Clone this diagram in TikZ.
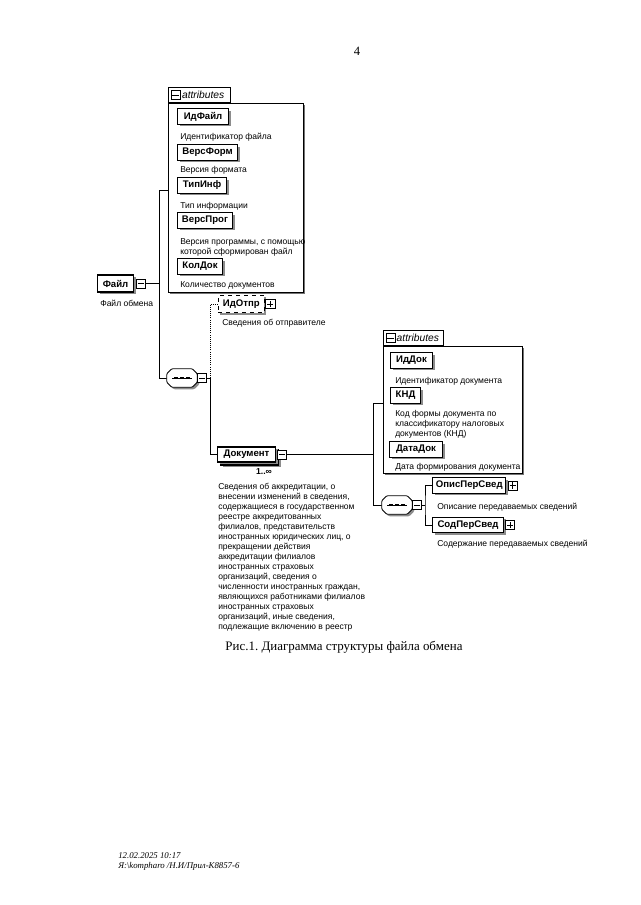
\documentclass[tikz,border=0pt]{standalone}
\usepackage{fontspec}
\setmainfont{Liberation Sans}
\newfontfamily\serifcap{Liberation Serif}
\usetikzlibrary{shadows,calc}
\frenchspacing
\newcommand\xsbtn[3]{%
  \node[btn] (#1) at (#2) {};
  \draw[line width=0.5pt] ([xshift=1.3pt]#1.west) -- ([xshift=-1.3pt]#1.east);
  \ifnum#3=1 \draw[line width=0.5pt] ([yshift=1.3pt]#1.south) -- ([yshift=-1.3pt]#1.north);\fi}
\newcommand\xsseq[2]{% name, centre
  \node[seqbase] (#1) at (#2) {};
  \draw[line width=0.6pt, fill=white, rounded corners=0.8pt,
    drop shadow={shadow xshift=1.5pt, shadow yshift=-1.5pt, fill=black!45, opacity=1}]
    ($(#1.north west)+(5,0)$) -- ($(#1.north east)+(-5,0)$) -- ($(#1.north east)+(0,5)$)
    -- ($(#1.south east)+(0,-5)$) -- ($(#1.south east)+(-5,0)$) -- ($(#1.south west)+(5,0)$)
    -- ($(#1.south west)+(0,-5)$) -- ($(#1.north west)+(0,5)$) -- cycle;
  \draw[line width=0.5pt] ($(#1.center)+(-10,0)$) -- ($(#1.center)+(10,0)$);
  \foreach \d in {-6,0,6} \fill ($(#1.center)+(\d-1.6,-1.2)$) rectangle ($(#1.center)+(\d+1.6,1.2)$);}
\begin{document}
\begin{tikzpicture}[x=0.75pt,y=-0.75pt,
  every node/.style={inner sep=0pt},
  elem/.style={draw, line width=0.8pt, fill=white, font=\bfseries\fontsize{7.2}{8}\selectfont,
    inner xsep=2.5pt, minimum height=11.5pt, anchor=west,
    drop shadow={shadow xshift=1.5pt, shadow yshift=-1.5pt, fill=black!45, opacity=1}},
  optelem/.style={elem, dashed, line width=0.6pt},
  btn/.style={draw, line width=0.5pt, fill=white, minimum size=6.8pt, anchor=west},
  desc/.style={font=\fontsize{6.4}{7.5}\selectfont, anchor=west, align=left},
  attrbox/.style={draw, line width=0.6pt, fill=white, anchor=north west,
    drop shadow={shadow xshift=1.5pt, shadow yshift=-1.5pt, fill=black!55, opacity=1}},
  tabbox/.style={draw, line width=0.6pt, fill=white, anchor=south west, minimum height=11.25pt,
    font=\itshape\fontsize{7.7}{8}\selectfont},
  seqbase/.style={minimum width=22.5pt, minimum height=13.5pt},
  conn/.style={line width=0.6pt},
]
\useasboundingbox (0,0) rectangle (640,905);
\fill[white] (0,0) rectangle (640,905);

% page number
\node[font=\serifcap\fontsize{9.5}{10}\selectfont] (pnum) at (357,51) {4};

% ---------- attributes of Файл ----------
\node[attrbox, minimum width=101.25pt, minimum height=141.75pt] (attrA) at (168,103) {};
\node[tabbox, minimum width=46.5pt] (tabA) at (attrA.north west) {\makebox[44pt][l]{\hspace{9pt}attributes}};
\xsbtn{tabAbtn}{[xshift=2pt]tabA.west}{0}

\node[elem, minimum width=38.25pt] (idfajl) at (177,116.5) {ИдФайл};
\node[desc] (idfajld) at (180,137) {Идентификатор файла};
\node[elem, minimum width=45pt] (versform) at (177,152.5) {ВерсФорм};
\node[desc] (versformd) at (180,170) {Версия формата};
\node[elem, minimum width=36.75pt] (tipinf) at (177,185.5) {ТипИнф};
\node[desc] (tipinfd) at (180,206) {Тип информации};
\node[elem, minimum width=41.25pt] (versprog) at (177,220.5) {ВерсПрог};
\node[desc, anchor=north west] (versprogd) at (180,238) {Версия программы, с помощью\\которой сформирован файл};
\node[elem, minimum width=33.75pt] (koldok) at (177,266.5) {КолДок};
\node[desc] (koldokd) at (180,285) {Количество документов};

% ---------- Файл ----------
\node[elem, minimum width=27pt, minimum height=12.75pt] (fajl) at (97,283.5) {Файл};
\xsbtn{fajlbtn}{[xshift=1.5pt]fajl.east}{0}
\node[desc] (fajld) at (100,303) {Файл обмена};

\coordinate (v1top) at (159,190);
\coordinate (v1bot) at (159,378);
\draw[conn] (fajlbtn.east) -- (fajlbtn.east -| v1top);
\draw[conn] (attrA.west |- v1top) -- (v1top) -- (v1bot) -- (167,378);

% ---------- sequence 1 ----------
\xsseq{seq1}{182,378}
\xsbtn{seq1btn}{seq1.east}{0}
\coordinate (v2mid) at (210,378);
\draw[conn] (seq1btn.east) -- (v2mid);

% ---------- ИдОтпр ----------
\node[optelem, minimum width=34.5pt, minimum height=13pt] (idotpr) at (218,304) {ИдОтпр};
\xsbtn{idotprbtn}{[xshift=0.5pt]idotpr.east}{1}
\node[desc] (idotprd) at (222,323) {Сведения об отправителе};
\draw[conn, densely dotted] (v2mid) |- (idotpr.west);

% ---------- Документ ----------
\node[elem, minimum width=43.5pt, minimum height=11.25pt] (dokback) at (220,457.5) {};
\node[elem, minimum width=43.5pt, minimum height=11.25pt] (dok) at (217,454.5) {Документ};
\xsbtn{dokbtn}{[xshift=1pt]dok.east}{0}
\node[font=\bfseries\fontsize{6.5}{7}\selectfont] (dokcard) at (264,472) {1..∞};
\draw[conn] (v2mid) |- (dok.west);
\node[desc, anchor=north west] (dokd) at (218,483) {Сведения об аккредитации, о\\
внесении изменений в сведения,\\
содержащиеся в государственном\\
реестре аккредитованных\\
филиалов, представительств\\
иностранных юридических лиц, о\\
прекращении действия\\
аккредитации филиалов\\
иностранных страховых\\
организаций, сведения о\\
численности иностранных граждан,\\
являющихся работниками филиалов\\
иностранных страховых\\
организаций, иные сведения,\\
подлежащие включению в реестр};

% ---------- attributes of Документ ----------
\node[attrbox, minimum width=104.25pt, minimum height=95.25pt] (attrB) at (383,346) {};
\node[tabbox, minimum width=45pt] (tabB) at (attrB.north west) {\makebox[43pt][l]{\hspace{9pt}attributes}};
\xsbtn{tabBbtn}{[xshift=2pt]tabB.west}{0}

\node[elem, minimum width=31.5pt] (iddok) at (390,360.5) {ИдДок};
\node[desc] (iddokd) at (395,381) {Идентификатор документа};
\node[elem, minimum width=22.5pt] (knd) at (390,395.5) {КНД};
\node[desc, anchor=north west] (kndd) at (395,410.5) {Код формы документа по\\классификатору налоговых\\документов (КНД)};
\node[elem, minimum width=39.75pt] (datadok) at (389,449.5) {ДатаДок};
\node[desc] (datadokd) at (395,467) {Дата формирования документа};

\coordinate (v3a) at (373,403);
\coordinate (v3b) at (373,505);
\draw[conn] (dokbtn.east) -- (dokbtn.east -| v3a);
\draw[conn] (attrB.west |- v3a) -- (v3a) -- (v3b) -- (382,505);

% ---------- sequence 2 ----------
\xsseq{seq2}{397,505}
\xsbtn{seq2btn}{seq2.east}{0}
\coordinate (v4) at (425,505);
\draw[conn] (seq2btn.east) -- (v4);

\node[elem, minimum width=54.75pt] (opis) at (432,485.5) {ОписПерСвед};
\xsbtn{opisbtn}{[xshift=1pt]opis.east}{1}
\node[desc] (opisd) at (437,507) {Описание передаваемых сведений};
\node[elem, minimum width=53.25pt] (sod) at (432,525) {СодПерСвед};
\xsbtn{sodbtn}{[xshift=1pt]sod.east}{1}
\node[desc] (sodd) at (437,544) {Содержание передаваемых сведений};
\draw[conn] (opis.west) -| (v4) |- (sod.west);

% ---------- caption & footer ----------
\node[font=\serifcap\fontsize{9.7}{11}\selectfont] (cap) at (344,647) {Рис.1. Диаграмма структуры файла обмена};
\node[anchor=north west, align=left, font=\serifcap\itshape\fontsize{6.6}{7.5}\selectfont] (foot) at (118,852)
  {12.02.2025 10:17\\Я:\textbackslash kompharo /Н.И/Прил-К8857-6};
\end{tikzpicture}
\end{document}
